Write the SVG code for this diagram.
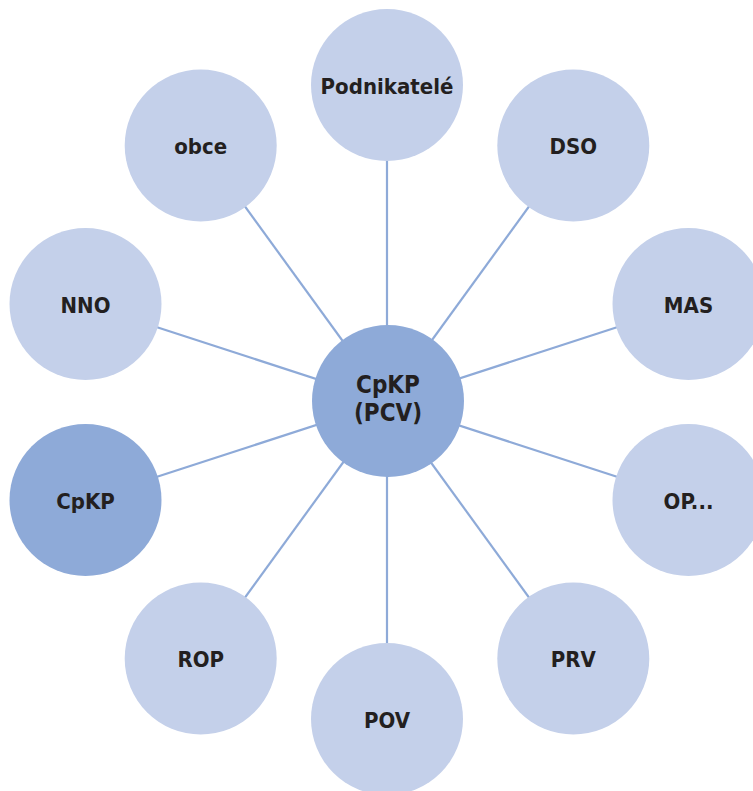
<svg xmlns="http://www.w3.org/2000/svg" width="753" height="791" viewBox="0 0 753 791">
<style>
.c{fill:#c4d0ea}
.d{fill:#8eaad8}
.l{stroke:#8eaad8;stroke-width:2.2}
text{font-family:"DejaVu Sans Condensed","Liberation Sans",sans-serif;font-weight:bold;font-size:22px;fill:#231f20;text-anchor:middle}
.big{font-size:24px}
</style>
<rect width="753" height="791" fill="#fff"/>
<g id="connectors">
<line class="l" x1="387" y1="402" x2="387" y2="85"/>
<line class="l" x1="387" y1="402" x2="573.3" y2="145.5"/>
<line class="l" x1="387" y1="402" x2="688.5" y2="304"/>
<line class="l" x1="387" y1="402" x2="688.5" y2="500"/>
<line class="l" x1="387" y1="402" x2="573.3" y2="658.5"/>
<line class="l" x1="387" y1="402" x2="387" y2="719"/>
<line class="l" x1="387" y1="402" x2="200.7" y2="658.5"/>
<line class="l" x1="387" y1="402" x2="85.5" y2="500"/>
<line class="l" x1="387" y1="402" x2="85.5" y2="304"/>
<line class="l" x1="387" y1="402" x2="200.7" y2="145.5"/>
</g>
<g id="podnikatele"><circle class="c" cx="387" cy="85" r="76"/><text x="387" y="94">Podnikatelé</text></g>
<g id="dso"><circle class="c" cx="573.3" cy="145.5" r="76"/><text x="573.3" y="154">DSO</text></g>
<g id="mas"><circle class="c" cx="688.5" cy="304" r="76"/><text x="688.5" y="313">MAS</text></g>
<g id="op"><circle class="c" cx="688.5" cy="500" r="76"/><text x="688.5" y="509">OP...</text></g>
<g id="prv"><circle class="c" cx="573.3" cy="658.5" r="76"/><text x="573.3" y="667">PRV</text></g>
<g id="pov"><circle class="c" cx="387" cy="719" r="76"/><text x="387" y="728">POV</text></g>
<g id="rop"><circle class="c" cx="200.7" cy="658.5" r="76"/><text x="200.7" y="667">ROP</text></g>
<g id="cpkp"><circle class="d" cx="85.5" cy="500" r="76"/><text x="85.5" y="509">CpKP</text></g>
<g id="nno"><circle class="c" cx="85.5" cy="304" r="76"/><text x="85.5" y="313">NNO</text></g>
<g id="obce"><circle class="c" cx="200.7" cy="145.5" r="76"/><text x="200.7" y="154">obce</text></g>
<g id="center"><circle class="d" cx="388" cy="401" r="76"/><text class="big" x="388" y="393">CpKP</text><text class="big" x="388" y="421">(PCV)</text></g>
</svg>
